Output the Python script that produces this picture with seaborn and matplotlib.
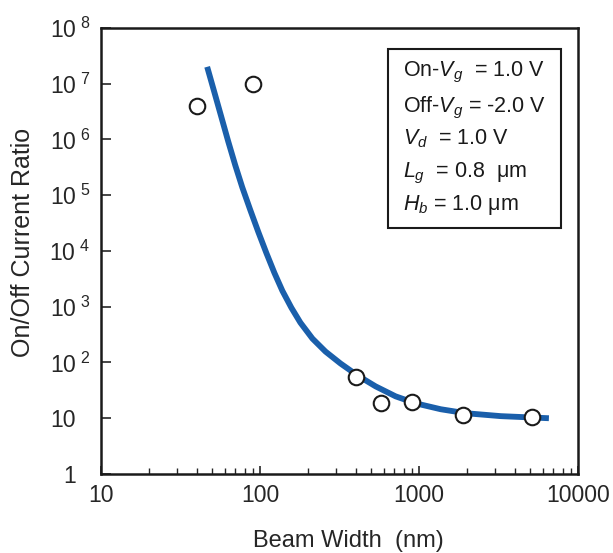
import numpy as np
import pandas as pd
import matplotlib
matplotlib.use("Agg")
import matplotlib.pyplot as plt
from matplotlib.patches import Rectangle
from matplotlib.transforms import ScaledTranslation
import seaborn as sns

# Fitted curve
curve_width = [46.5, 51.5, 57.0, 63.1, 69.9, 77.3, 86.9, 97.6, 109.6, 123.1, 138.2, 157.4,
               179.4, 213.6, 258, 320.6, 410, 533, 712, 952, 1368, 1966, 3268, 6556]
curve_ratio = [2.01e7, 7.2e6, 2.58e6, 9.2e5, 3.43e5, 1.39e5, 5.4e4, 2.18e4, 9.2e3, 4.05e3,
               1.93e3, 960, 518, 268, 157, 96, 58.6, 37.3, 24.7, 18.5, 14.5, 12.3, 10.9, 10.0]

# Measured points
meas_width = [40, 90, 400, 580, 900, 1900, 5100]
meas_ratio = [4.0e6, 1.0e7, 56, 18.5, 19.3, 11.3, 10.4]

x_ticks = [10, 100, 1000, 10000]
x_ticklabels = ["10", "100", "1000", "10000"]
y_ticks = [1, 10, 1e2, 1e3, 1e4, 1e5, 1e6, 1e7, 1e8]
y_exps = [0, 1, 2, 3, 4, 5, 6, 7, 8]

legend_lines = [
    r"On-$V_g$  = 1.0 V",
    r"Off-$V_g$ = -2.0 V",
    r"$V_d$  = 1.0 V",
    r"$L_g$  = 0.8  $\mathrm{\mu}$m",
    r"$H_b$ = 1.0 $\mathrm{\mu}$m",
]

sns.set_style("ticks")
plt.rcParams["font.family"] = ["Liberation Sans", "DejaVu Sans"]
plt.rcParams["mathtext.fontset"] = "custom"
plt.rcParams["mathtext.rm"] = "Liberation Sans"
plt.rcParams["mathtext.it"] = "Liberation Sans:italic"
plt.rcParams["mathtext.bf"] = "Liberation Sans:bold"
plt.rcParams["mathtext.sf"] = "Liberation Sans"

fig = plt.figure(figsize=(6.13, 5.53), dpi=100)
ax = fig.add_axes([0.1648, 0.1429, 0.7782, 0.8065])

df_curve = pd.DataFrame({"w": curve_width, "r": curve_ratio})
df_meas = pd.DataFrame({"w": meas_width, "r": meas_ratio})

sns.lineplot(data=df_curve, x="w", y="r", ax=ax, color="#1a5fab", linewidth=4.2,
             sort=False, solid_capstyle="butt", solid_joinstyle="round", zorder=2)
sns.scatterplot(data=df_meas, x="w", y="r", ax=ax, s=125, color="white",
                edgecolor="#1a1a1a", linewidth=1.5, zorder=3)

ax.set_xscale("log")
ax.set_yscale("log")
ax.set_xlim(10, 10000)
ax.set_ylim(1, 1e8)

ax.set_xticks(x_ticks)
ax.set_xticklabels(x_ticklabels)
ax.xaxis.set_minor_locator(matplotlib.ticker.LogLocator(base=10, subs=np.arange(2, 10), numticks=20))
ax.xaxis.set_minor_formatter(matplotlib.ticker.NullFormatter())

ylabels = []
for e in y_exps:
    if e == 0:
        ylabels.append("1")
    elif e == 1:
        ylabels.append("10")
    else:
        ylabels.append(r"$\mathregular{10^{\ %d}}$" % e)
ax.set_yticks(y_ticks)
ax.set_yticklabels(ylabels)
ax.yaxis.set_minor_locator(matplotlib.ticker.NullLocator())

ax.tick_params(axis="both", which="both", direction="in", top=False, right=False)
ax.tick_params(axis="x", which="major", length=6, width=1.2, labelsize=16.5, pad=7)
ax.tick_params(axis="x", which="minor", length=4, width=1.0)
ax.tick_params(axis="y", which="major", length=7, width=1.2, labelsize=16.5, pad=8)

# plain labels (1, 10) sit left of the exponent column
shift = ScaledTranslation(-10 / 72, 0, fig.dpi_scale_trans)
for tk in ax.yaxis.get_major_ticks()[:2]:
    tk.label1.set_transform(tk.label1.get_transform() + shift)

for s in ax.spines.values():
    s.set_linewidth(1.8)
    s.set_color("#1a1a1a")
    s.set_visible(True)

ax.set_xlabel("Beam Width  (nm)", fontsize=17)
ax.set_ylabel("On/Off Current Ratio", fontsize=18)
ax.xaxis.set_label_coords(0.518, -0.125)
ax.yaxis.set_label_coords(-0.138, 0.52)

# Parameter box
ax.add_patch(Rectangle((0.602, 0.552), 0.362, 0.401, transform=ax.transAxes,
                       fill=False, edgecolor="#1a1a1a", linewidth=1.5, zorder=4))
y_base = [0.891, 0.810, 0.738, 0.666, 0.592]
for txt, yb in zip(legend_lines, y_base):
    ax.text(0.633, yb, txt, transform=ax.transAxes, fontsize=15.5, va="baseline", ha="left",
            color="#1a1a1a")

fig.savefig("out.png", dpi=100)
